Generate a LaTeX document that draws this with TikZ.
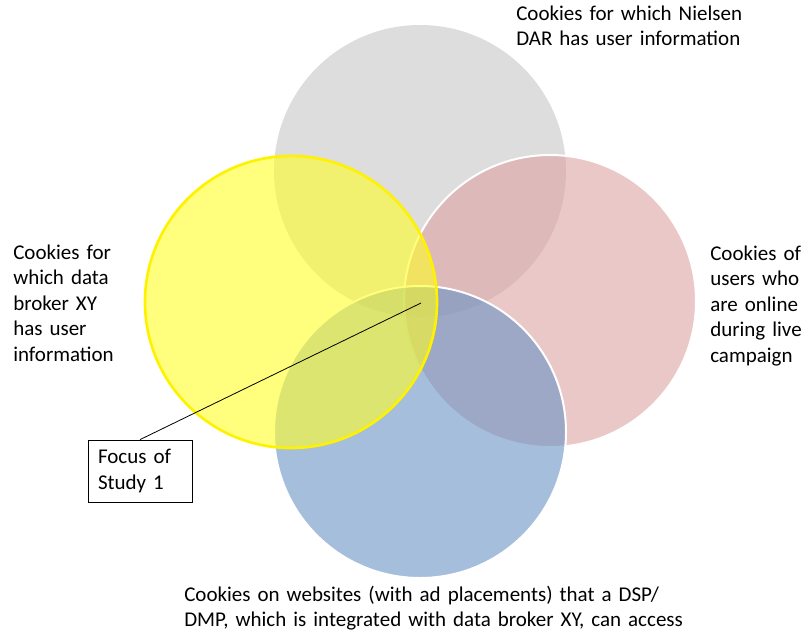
\documentclass[tikz,border=0pt]{standalone}
\usepackage{fontspec}
\setmainfont{Carlito}

\definecolor{dargray}{RGB}{198,198,198}
\definecolor{livepink}{RGB}{222,163,163}
\definecolor{dspblue}{RGB}{105,147,197}
\definecolor{brokeryellow}{RGB}{255,255,38}

\tikzstyle{venn} = [circle, minimum size=219pt, inner sep=0pt, fill opacity=0.6]
\tikzstyle{desc} = [anchor=base west, inner sep=0pt, align=left,
    font=\fontsize{15.75}{19.2}\selectfont]
\tikzstyle{note} = [rectangle, draw, line width=0.6pt, minimum width=78pt,
    minimum height=46.5pt, text width=63pt, align=left,
    font=\fontsize{15.75}{19.2}\selectfont]
\tikzstyle{line} = [draw, line width=0.6pt]

\begin{document}
\begin{tikzpicture}[x=0.75pt, y=-0.75pt]
    \useasboundingbox (0,0) rectangle (806,636);

    \node [venn, fill=dargray] (Nielsen) at (420,171) {};
    \node [venn, fill=livepink, draw=white, line width=1.5pt] (Live) at (550,301) {};
    \node [venn, fill=dspblue, draw=white, line width=1.5pt] (DSP) at (420,432) {};
    \node [venn, fill=brokeryellow, draw=yellow, draw opacity=1, line width=2pt] (Broker) at (291,302) {};

    \node [desc, text width=200pt] (NielsenText) at (516,20) {Cookies for which Nielsen\\DAR has user information};
    \node [desc, text width=90pt] (BrokerText) at (13,259) {Cookies for\\which data\\broker XY\\has user\\information};
    \node [desc, text width=72pt] (LiveText) at (710,260) {Cookies of\\users who\\are online\\during live\\campaign};
    \node [desc, text width=400pt] (DSPText) at (184,601) {Cookies on websites (with ad placements) that a DSP/\\DMP, which is integrated with data broker XY, can access};

    \node [note] (Focus) at (140,471) {Focus of\\Study 1};
    \coordinate (FocusPoint) at (421,303);
    \path [line] (Focus.north) -- (FocusPoint);
\end{tikzpicture}
\end{document}
